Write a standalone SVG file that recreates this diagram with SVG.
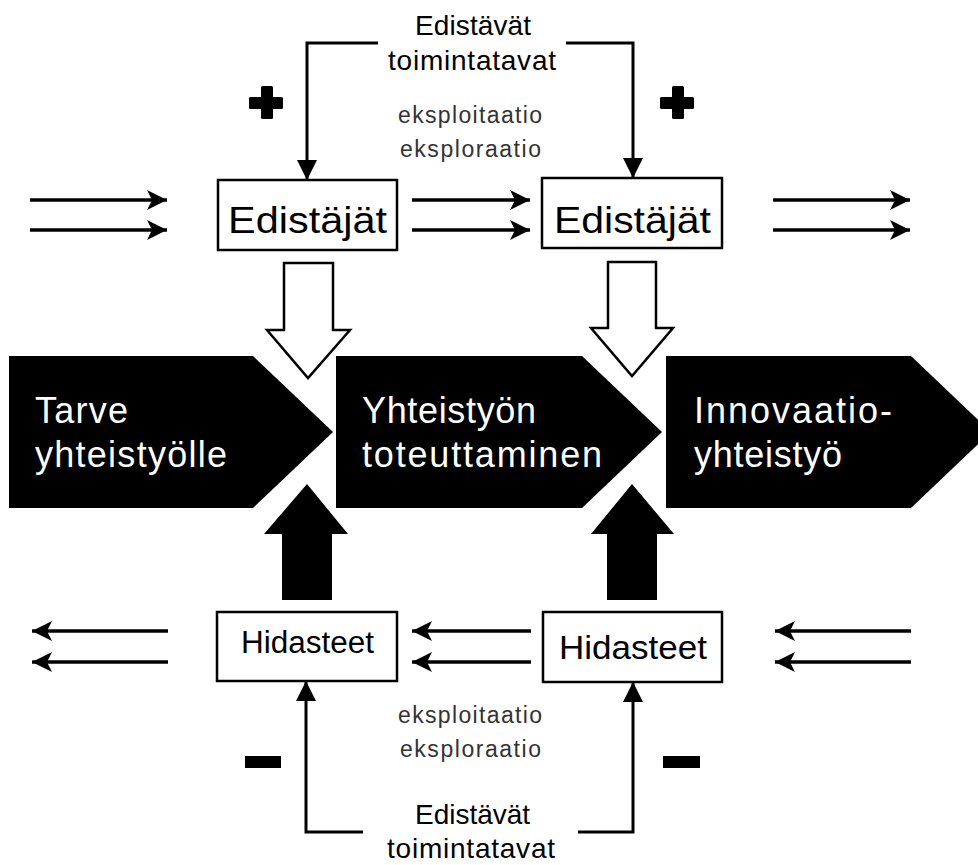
<svg xmlns="http://www.w3.org/2000/svg" width="978" height="865" viewBox="0 0 978 865">
<style>
text{font-family:"Liberation Sans",Arial,sans-serif;}
.box{fill:#fff;stroke:#000;stroke-width:2.5;}
.ln{fill:none;stroke:#000;stroke-width:3;}
.ha{fill:none;stroke:#000;stroke-width:3.5;}
.hollow{fill:#fff;stroke:#000;stroke-width:2.5;stroke-linejoin:miter;}
.solid{fill:#000;}
.wt{fill:#fff;font-size:36px;}
.lbl{fill:#000;font-size:28px;}
.sm{fill:#333;font-size:23px;}
</style>
<defs>
<marker id="tri" markerUnits="userSpaceOnUse" markerWidth="22" markerHeight="22" refX="20" refY="10" orient="auto" viewBox="0 0 22 22">
<path d="M0,0 L20,10 L0,20 Z" fill="#000"/>
</marker>
<marker id="stealth" markerUnits="userSpaceOnUse" markerWidth="22" markerHeight="22" refX="20" refY="10" orient="auto" viewBox="0 0 22 22">
<path d="M0,0 L20,10 L0,20 L5,10 Z" fill="#000"/>
</marker>
</defs>

<g id="stage1">
<polygon class="solid" points="9,356 253,356 333,432 253,508 9,508"/>
<text class="wt" x="35" y="423" textLength="93">Tarve</text>
<text class="wt" x="35" y="467" textLength="192">yhteistyölle</text>
</g>
<g id="stage2">
<polygon class="solid" points="336,356 582,356 662,432 582,508 336,508"/>
<text class="wt" x="362" y="423" textLength="174">Yhteistyön</text>
<text class="wt" x="362" y="467" textLength="240">toteuttaminen</text>
</g>
<g id="stage3">
<polygon class="solid" points="666,356 911,356 991,432 911,508 666,508"/>
<text class="wt" x="694" y="423" textLength="198">Innovaatio-</text>
<text class="wt" x="694" y="467" textLength="148">yhteistyö</text>
</g>

<g id="edistajat1">
<rect class="box" x="218" y="180" width="179" height="70"/>
<text x="228" y="233" font-size="37" textLength="159" lengthAdjust="spacingAndGlyphs">Edistäjät</text>
</g>
<g id="edistajat2">
<rect class="box" x="542" y="178" width="180" height="70"/>
<text x="554" y="233" font-size="37" textLength="157" lengthAdjust="spacingAndGlyphs">Edistäjät</text>
</g>
<g id="hidasteet1">
<rect class="box" x="217" y="612" width="180" height="69"/>
<text x="241" y="653" font-size="31" textLength="133" lengthAdjust="spacingAndGlyphs">Hidasteet</text>
</g>
<g id="hidasteet2">
<rect class="box" x="543" y="612" width="179" height="70"/>
<text x="559" y="659" font-size="34" textLength="148" lengthAdjust="spacingAndGlyphs">Hidasteet</text>
</g>

<g id="top-label">
<text class="lbl" x="415" y="35" textLength="116">Edistävät</text>
<text class="lbl" x="388" y="70" textLength="168">toimintatavat</text>
<text class="sm" x="398" y="123" textLength="144">eksploitaatio</text>
<text class="sm" x="400" y="157" textLength="141">eksploraatio</text>
</g>
<g id="bottom-label">
<text class="lbl" x="415" y="824" textLength="115">Edistävät</text>
<text class="lbl" x="387" y="858" textLength="168">toimintatavat</text>
<text class="sm" x="398" y="723" textLength="144">eksploitaatio</text>
<text class="sm" x="400" y="757" textLength="141">eksploraatio</text>
</g>

<g id="signs">
<rect class="solid" x="249" y="97" width="34" height="12" rx="1.5"/>
<rect class="solid" x="261" y="86" width="12" height="33" rx="1.5"/>
<rect class="solid" x="660" y="97" width="34" height="12" rx="1.5"/>
<rect class="solid" x="672" y="86" width="12" height="33" rx="1.5"/>
<rect class="solid" x="245" y="756" width="36" height="12"/>
<rect class="solid" x="663" y="756" width="37" height="12"/>
</g>

<g id="connectors">
<path class="ln" d="M378,43 H307 V180" marker-end="url(#tri)"/>
<path class="ln" d="M566,43 H633 V178" marker-end="url(#tri)"/>
<path class="ln" d="M363,832 H306 V681" marker-end="url(#tri)"/>
<path class="ln" d="M578,832 H633 V682" marker-end="url(#tri)"/>

<path class="ha" d="M30,200 H167" marker-end="url(#stealth)"/>
<path class="ha" d="M30,230 H167" marker-end="url(#stealth)"/>
<path class="ha" d="M412,200 H530" marker-end="url(#stealth)"/>
<path class="ha" d="M412,230 H530" marker-end="url(#stealth)"/>
<path class="ha" d="M773,200 H910" marker-end="url(#stealth)"/>
<path class="ha" d="M773,230 H910" marker-end="url(#stealth)"/>

<path class="ha" d="M168,631 H32" marker-end="url(#stealth)"/>
<path class="ha" d="M168,662 H32" marker-end="url(#stealth)"/>
<path class="ha" d="M531,631 H412" marker-end="url(#stealth)"/>
<path class="ha" d="M531,662 H412" marker-end="url(#stealth)"/>
<path class="ha" d="M911,631 H775" marker-end="url(#stealth)"/>
<path class="ha" d="M911,662 H775" marker-end="url(#stealth)"/>

<polygon class="hollow" points="284,263 333,263 333,330 350,330 308,378 267,330 284,330"/>
<polygon class="hollow" points="608,262 656,262 656,328 673,328 632,376 591,328 608,328"/>
<polygon class="solid" points="307,484 348,534 332,534 332,600 282,600 282,534 264,534"/>
<polygon class="solid" points="632,484 674,534 657,534 657,600 607,600 607,534 591,534"/>
</g>
</svg>
